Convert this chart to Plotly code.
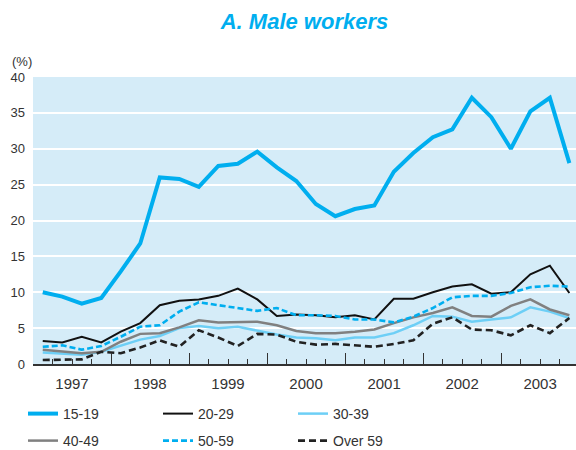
import plotly.graph_objects as go

years = [1997, 1998, 1999, 2000, 2001, 2002, 2003]
quarters = [0.125, 0.375, 0.625, 0.875]
x_vals = [y + q for y in years for q in quarters]

s15_19 = [10.0, 9.4, 8.4, 9.2, 12.9, 16.8, 26.0, 25.8, 24.7, 27.6, 27.9, 29.6,
          27.4, 25.5, 22.3, 20.6, 21.6, 22.1, 26.8, 29.4, 31.6, 32.7, 37.1, 34.4,
          30.0, 35.2, 37.1, 28.0]
s20_29 = [3.2, 3.0, 3.8, 3.0, 4.5, 5.7, 8.2, 8.8, 9.0, 9.5, 10.5, 9.0,
          6.7, 6.9, 6.8, 6.5, 6.8, 6.2, 9.1, 9.1, 10.0, 10.8, 11.1, 9.8,
          10.0, 12.5, 13.7, 9.9]
s30_39 = [1.6, 1.4, 1.3, 1.7, 2.6, 3.4, 3.9, 5.0, 5.3, 5.0, 5.2, 4.6,
          4.1, 3.7, 3.6, 3.3, 3.7, 3.7, 4.3, 5.4, 6.7, 6.6, 5.9, 6.2,
          6.5, 7.9, 7.3, 6.4]
s40_49 = [2.0, 1.8, 1.5, 1.7, 3.1, 4.2, 4.3, 5.1, 6.1, 5.8, 5.8, 5.9,
          5.4, 4.6, 4.3, 4.3, 4.5, 4.8, 5.7, 6.5, 7.1, 7.9, 6.7, 6.6,
          8.1, 9.0, 7.6, 6.8]
s50_59 = [2.4, 2.6, 2.0, 2.5, 3.8, 5.2, 5.4, 7.3, 8.6, 8.2, 7.8, 7.4,
          7.8, 6.8, 6.8, 6.7, 6.2, 6.2, 5.8, 6.6, 7.8, 9.3, 9.5, 9.5,
          9.9, 10.7, 10.9, 10.8]
s_over59 = [0.55, 0.65, 0.65, 1.7, 1.5, 2.3, 3.3, 2.4, 4.7, 3.7, 2.5, 4.2,
            4.1, 3.1, 2.7, 2.8, 2.65, 2.4, 2.8, 3.3, 5.6, 6.5, 4.8, 4.7,
            4.0, 5.4, 4.3, 6.4]

series_names = ["15-19", "20-29", "30-39", "40-49", "50-59", "Over 59"]
series_values = [s15_19, s20_29, s30_39, s40_49, s50_59, s_over59]
y_ticks = [0, 5, 10, 15, 20, 25, 30, 35, 40]

styles = [
    dict(color="#00AEEF", width=4, dash="solid"),
    dict(color="#111111", width=2, dash="solid"),
    dict(color="#6DCFF6", width=2.5, dash="solid"),
    dict(color="#808080", width=2.5, dash="solid"),
    dict(color="#00AEEF", width=2.6, dash="6px,3px"),
    dict(color="#222222", width=2.6, dash="7px,4px"),
]
legend_ids = ["legend", "legend", "legend", "legend2", "legend2", "legend2"]

fig = go.Figure()
for name, vals, st, lg in zip(series_names, series_values, styles, legend_ids):
    fig.add_trace(go.Scatter(x=x_vals, y=vals, mode="lines", name=name,
                             line=dict(color=st["color"], width=st["width"], dash=st["dash"]),
                             legend=lg))

text_col = "#333333"
fig.update_layout(
    width=576, height=450,
    margin=dict(l=33, r=0, t=77, b=86),
    plot_bgcolor="#D5ECF8",
    paper_bgcolor="white",
    font=dict(family="Liberation Sans, Arial, sans-serif", size=13, color=text_col),
    title=dict(text="<b><i>A. Male workers</i></b>", x=0.5, xref="paper", xanchor="center",
               y=1 - 21 / 450, yref="container", yanchor="middle",
               font=dict(size=22, color="#00AEEF")),
    xaxis=dict(range=[1997, 2003.96], tickvals=years, ticktext=[str(y) for y in years],
               ticks="inside", ticklen=11, tickwidth=1.2, tickcolor="#333333",
               ticklabelshift=39, ticklabelstandoff=5,
               tickfont=dict(size=15, color=text_col),
               showgrid=False, zeroline=False, showline=True, linecolor="#333333", linewidth=1.5,
               minor=dict(tick0=1997, dtick=0.25, ticks="inside", ticklen=5, tickwidth=1,
                          tickcolor="#333333", showgrid=False)),
    yaxis=dict(range=[0, 40], tickvals=y_ticks, ticks="", showgrid=True,
               gridcolor="white", gridwidth=2, zeroline=False, showline=False,
               ticklabelstandoff=7, tickfont=dict(size=13, color=text_col)),
    legend=dict(orientation="h", xref="container", x=23 / 576, xanchor="left",
                yref="container", y=1 - 414 / 450, yanchor="middle",
                entrywidth=90, font=dict(size=14, color=text_col),
                bgcolor="rgba(0,0,0,0)"),
    legend2=dict(orientation="h", xref="container", x=23 / 576, xanchor="left",
                 yref="container", y=1 - 441 / 450, yanchor="middle",
                 entrywidth=90, font=dict(size=14, color=text_col),
                 bgcolor="rgba(0,0,0,0)"),
    annotations=[dict(text="(%)", xref="paper", yref="paper",
                      x=-23 / 543, y=1 + 16 / 287, xanchor="left", yanchor="middle",
                      showarrow=False, font=dict(size=13, color=text_col))],
    showlegend=True,
)

fig.write_html("out.html", config={"displayModeBar": False},
               post_script="document.body.style.margin='0';document.body.style.padding='0';")
